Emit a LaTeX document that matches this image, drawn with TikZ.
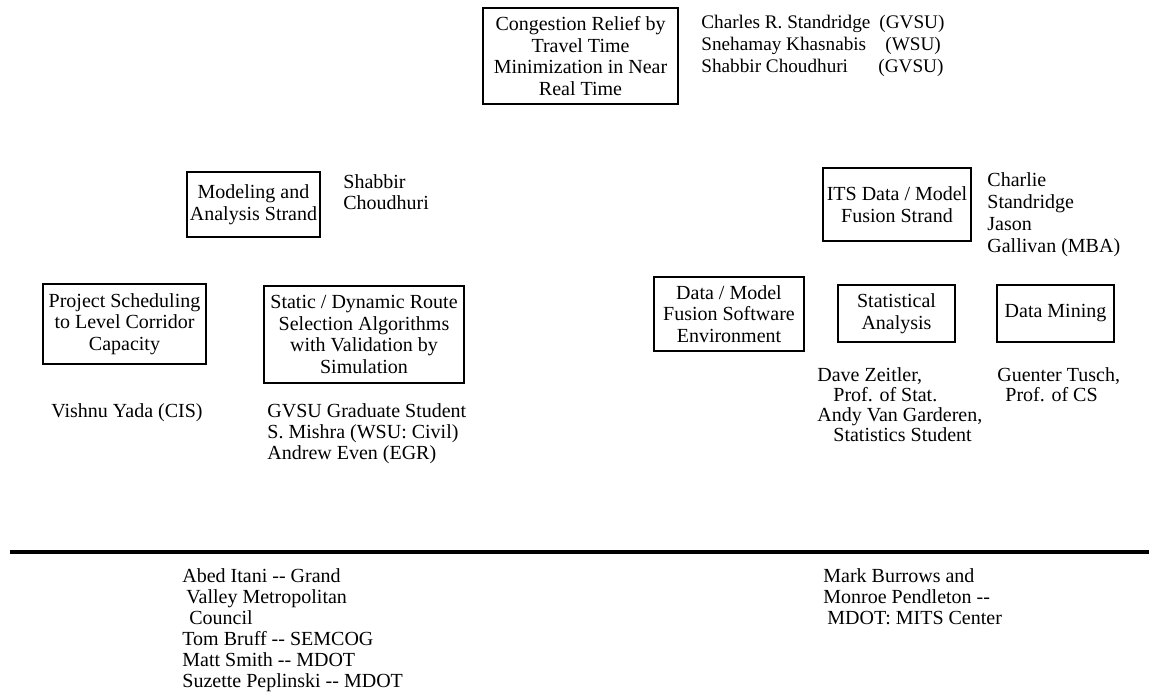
\documentclass[tikz,border=0pt]{standalone}
\usepackage{fontspec}
\setmainfont{Liberation Serif}
\usepackage{tikz}

\begin{document}
\begin{tikzpicture}[x=0.5pt, y=-0.5pt,
	font=\fontsize{10}{10.5}\selectfont,
	strand/.style={draw, line width=0.7pt, align=center, inner sep=0pt,
		font=\fontsize{10}{10.85}\selectfont},
	people/.style={align=left, anchor=north west, inner sep=0pt}]
	\useasboundingbox (0,0) rectangle (1149,700);

	% project
	\node [strand, minimum width=97.5pt, minimum height=48pt] (relief) at (580.5,56)
		{Congestion Relief by\\Travel Time\\Minimization in Near\\Real Time};
	\node [people, font=\fontsize{9.6}{10.85}\selectfont] (leads) at (701,15)
		{\makebox[89pt][l]{Charles R. Standridge}(GVSU)\\
		 \makebox[92pt][l]{Snehamay Khasnabis}(WSU)\\
		 \makebox[88.5pt][l]{Shabbir Choudhuri}(GVSU)};

	% modeling strand
	\node [strand, minimum width=66.5pt, minimum height=32.5pt] (modeling) at (253.5,204.5)
		{Modeling and\\Analysis Strand};
	\node [people] (modlead) at (343,174) {Shabbir\\Choudhuri};

	\node [strand, minimum width=81.5pt, minimum height=40pt] (sched) at (124.5,324)
		{Project Scheduling\\to Level Corridor\\Capacity};
	\node [people] (schedwho) at (51,403) {Vishnu Yada (CIS)};

	\node [strand, minimum width=100pt, minimum height=48.5pt] (route) at (364,334.5)
		{Static / Dynamic Route\\Selection Algorithms\\with Validation by\\Simulation};
	\node [people] (routewho) at (267,403)
		{GVSU Graduate Student\\S. Mishra (WSU: Civil)\\Andrew Even (EGR)};

	% fusion strand
	\node [strand, minimum width=74pt, minimum height=36.5pt] (its) at (897,204.5)
		{ITS Data / Model\\Fusion Strand};
	\node [people, font=\fontsize{10}{11.1}\selectfont] (itslead) at (987,172)
		{Charlie\\Standridge\\Jason\\Gallivan (MBA)};

	\node [strand, minimum width=75pt, minimum height=37pt] (software) at (729,314)
		{Data / Model\\Fusion Software\\Environment};
	\node [strand, minimum width=58.5pt, minimum height=28.5pt] (stats) at (896.5,313.5)
		{Statistical\\Analysis};
	\node [strand, minimum width=58.5pt, minimum height=28.5pt] (mining) at (1055.5,313.5)
		{Data Mining};
	\node [people, font=\fontsize{10}{10}\selectfont] (statswho) at (817,367)
		{Dave Zeitler,\\\hspace*{8pt}Prof. of Stat.\\Andy Van Garderen,\\\hspace*{8pt}Statistics Student};
	\node [people, font=\fontsize{10}{10}\selectfont] (miningwho) at (997,367)
		{Guenter Tusch,\\\hspace*{4pt}Prof. of CS};

	% advisors
	\coordinate (ruleL) at (10,552);
	\coordinate (ruleR) at (1149,552);
	\draw [line width=2.25pt] (ruleL) -- (ruleR);
	\node [people] (locals) at (182,568)
		{Abed Itani -{}- Grand\\\hspace*{2pt}Valley Metropolitan\\\hspace*{3.5pt}Council\\
		 Tom Bruff -{}- SEMCOG\\Matt Smith -{}- MDOT\\Suzette Peplinski -{}- MDOT};
	\node [people] (mdot) at (823,568)
		{Mark Burrows and\\Monroe Pendleton -{}-\\\hspace*{2pt}MDOT: MITS Center};
\end{tikzpicture}
\end{document}
